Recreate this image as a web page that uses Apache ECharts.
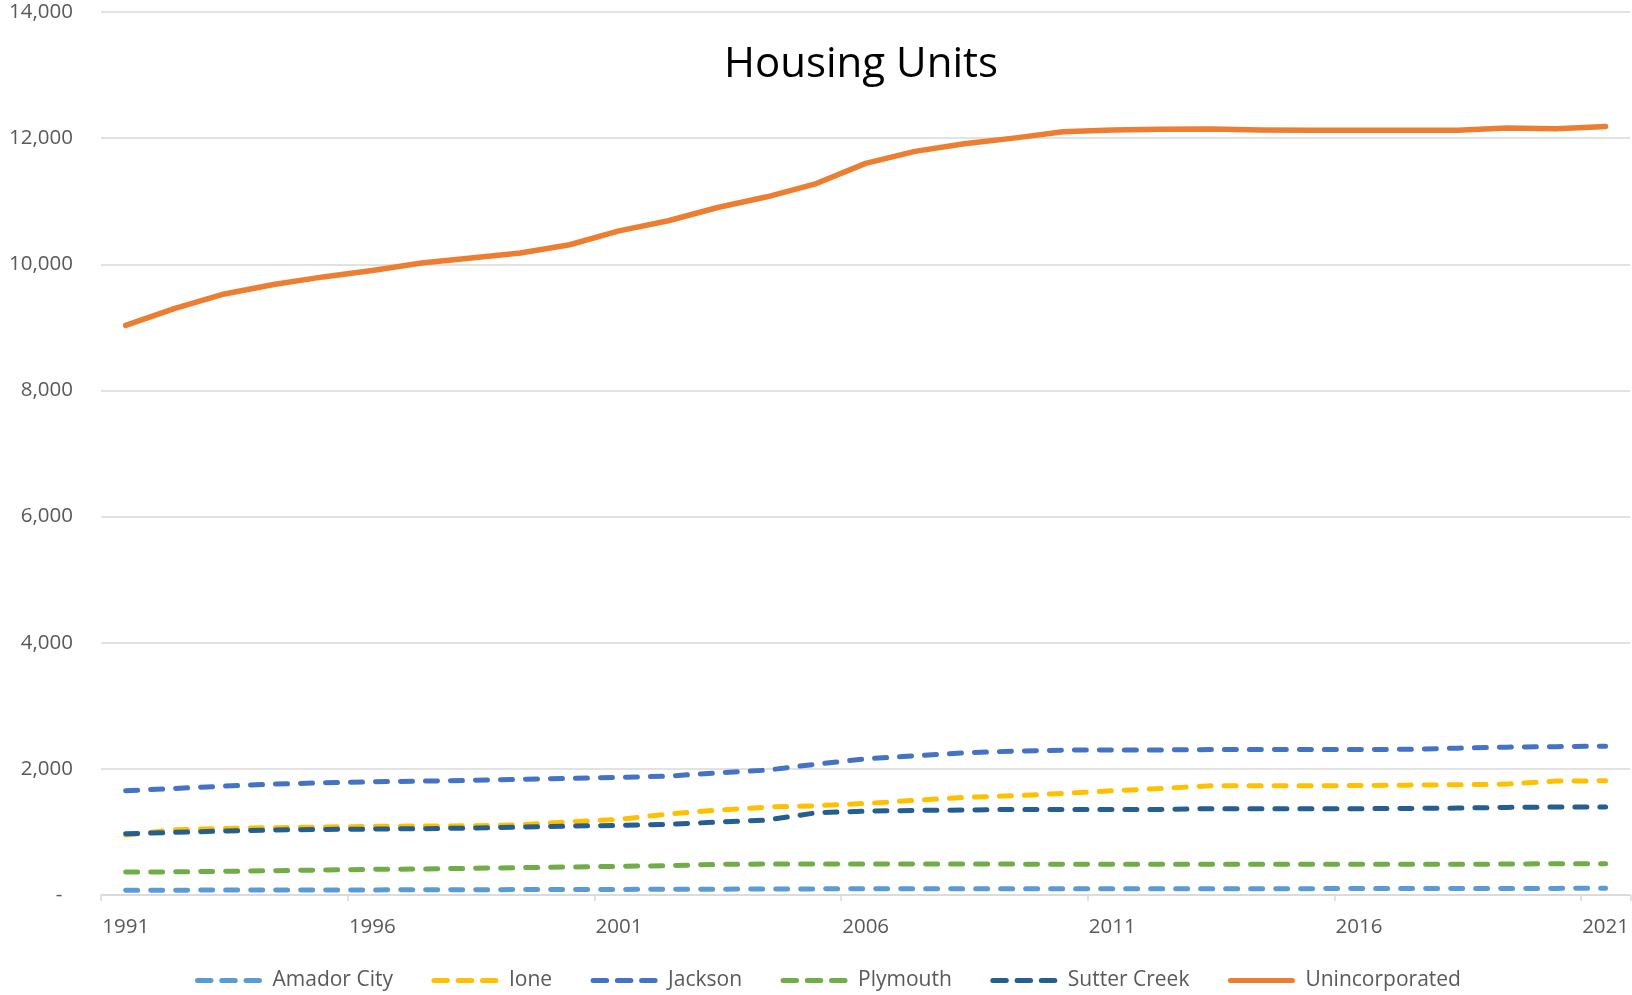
<!DOCTYPE html>
<html>
<head>
<meta charset="utf-8">
<script src="https://cdn.jsdelivr.net/npm/echarts@6/dist/echarts.min.js"></script>
<style>
  html, body { margin: 0; padding: 0; background: #fff; }
  #chart { width: 1632px; height: 995px; }
</style>
</head>
<body>
<div id="chart"></div>
<script>
const years = ['1991','1992','1993','1994','1995','1996','1997','1998','1999','2000',
  '2001','2002','2003','2004','2005','2006','2007','2008','2009','2010',
  '2011','2012','2013','2014','2015','2016','2017','2018','2019','2020','2021'];

const amadorCity = [76, 77, 78, 79, 80, 81, 82, 84, 86, 88, 89, 90, 92, 95, 97, 98, 99, 100, 100, 100, 100, 100, 100, 100, 101, 102, 102, 103, 104, 105, 106];
const ione = [950, 1035, 1056, 1067, 1077, 1088, 1093, 1098, 1114, 1161, 1199, 1283, 1346, 1394, 1415, 1452, 1500, 1547, 1573, 1610, 1652, 1690, 1731, 1731, 1731, 1736, 1742, 1747, 1758, 1806, 1811];
const jackson = [1652, 1690, 1727, 1758, 1779, 1795, 1805, 1817, 1833, 1848, 1864, 1885, 1937, 1980, 2075, 2159, 2207, 2254, 2281, 2297, 2300, 2300, 2305, 2305, 2307, 2307, 2310, 2328, 2344, 2352, 2360];
const plymouth = [364, 367, 375, 386, 396, 407, 412, 423, 433, 444, 454, 465, 486, 491, 491, 491, 490, 490, 490, 488, 486, 486, 486, 486, 486, 486, 486, 486, 491, 496, 496];
const sutterCreek = [971, 993, 1014, 1030, 1040, 1045, 1051, 1061, 1077, 1093, 1104, 1120, 1156, 1188, 1304, 1330, 1341, 1346, 1357, 1357, 1357, 1357, 1368, 1368, 1368, 1368, 1373, 1378, 1389, 1394, 1394];
const unincorporated = [9030, 9300, 9530, 9680, 9800, 9900, 10020, 10100, 10180, 10310, 10530, 10690, 10900, 11070, 11280, 11600, 11790, 11910, 12000, 12100, 12130, 12140, 12145, 12130, 12125, 12125, 12125, 12125, 12160, 12150, 12185];

const yTicks = { min: 0, max: 14000, interval: 2000 };
const seriesNames = ['Amador City', 'Ione', 'Jackson', 'Plymouth', 'Sutter Creek', 'Unincorporated'];
const seriesColors = ['#5B9BD5', '#FFC000', '#4472C4', '#70AD47', '#255E91', '#ED7D31'];
const seriesValues = [amadorCity, ione, jackson, plymouth, sutterCreek, unincorporated];

const FONT = '"Open Sans", "Noto Sans", sans-serif';

// legend icons: rounded dashes (dashed series) or a rounded bar (solid series)
function roundSeg(a, b, h) {
  const r = h / 2;
  return `M${a + r},0 L${b - r},0 A${r},${r} 0 0 1 ${b - r},${h} L${a + r},${h} A${r},${r} 0 0 1 ${a + r},0 Z `;
}
const dashIcon = 'path://' + roundSeg(0, 18.5, 5) + roundSeg(24.25, 42.75, 5) + roundSeg(48.5, 67, 5);
const solidIcon = 'path://' + roundSeg(0, 67, 5);

const chart = echarts.init(document.getElementById('chart'), null, { renderer: 'canvas' });

const series = seriesNames.map((name, i) => {
  const dashed = name !== 'Unincorporated';
  return {
    name: name,
    type: 'line',
    data: seriesValues[i],
    symbol: 'none',
    smooth: false,
    z: 2 + i,
    lineStyle: {
      color: seriesColors[i],
      width: dashed ? 5 : 5.5,
      type: dashed ? [12, 13] : 'solid',
      cap: 'round',
      join: 'round'
    },
    itemStyle: { color: seriesColors[i] },
    emphasis: { disabled: true }
  };
});

chart.setOption({
  animation: false,
  backgroundColor: '#ffffff',
  title: {
    text: 'Housing Units',
    left: 856,
    top: 39,
    textAlign: 'center',
    textStyle: { fontFamily: FONT, fontSize: 42, fontWeight: 'normal', color: '#000000' }
  },
  grid: { left: 101, right: 0, top: 12, bottom: 100, containLabel: false },
  legend: {
    data: seriesNames.map((n, i) => ({ name: n, icon: n === 'Unincorporated' ? solidIcon : dashIcon })),
    left: 190,
    top: 965,
    itemWidth: 67,
    itemHeight: 5,
    itemGap: 38.5,
    textStyle: { fontFamily: FONT, fontSize: 21, color: '#595959', padding: [0, 0, 0, 5.5] }
  },
  xAxis: {
    type: 'category',
    data: years,
    boundaryGap: true,
    axisLine: { show: true, lineStyle: { color: '#D9D9D9', width: 1.5 } },
    axisTick: { show: true, interval: 4, length: 6, lineStyle: { color: '#D9D9D9', width: 1.5 } },
    axisLabel: { interval: 4, fontFamily: FONT, fontSize: 20.5, color: '#595959', margin: 22 },
    splitLine: { show: false }
  },
  yAxis: {
    type: 'value',
    min: yTicks.min,
    max: yTicks.max,
    interval: yTicks.interval,
    axisLine: { show: false },
    axisTick: { show: false },
    axisLabel: {
      fontFamily: FONT, fontSize: 20.5, color: '#595959', margin: 28,
      formatter: v => v === 0 ? '-  ' : v.toLocaleString('en-US')
    },
    splitLine: { lineStyle: { color: '#D9D9D9', width: 1.5 } }
  },
  series: series
});
</script>
</body>
</html>
